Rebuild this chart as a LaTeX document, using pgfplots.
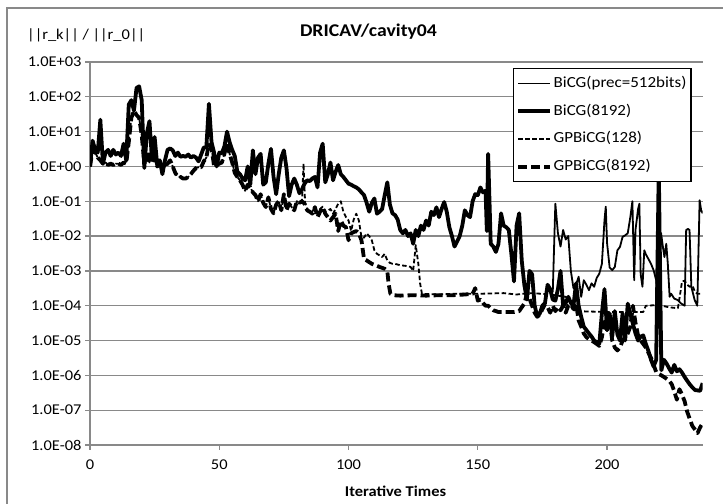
\documentclass[border=0pt]{standalone}
\usepackage{fontspec}
\setmainfont{Carlito}[FakeStretch=1.1]
\usepackage{pgfplots}
\pgfplotsset{compat=1.18}
\definecolor{gridgray}{RGB}{137,137,137}
\begin{document}
\begin{tikzpicture}[x=1bp,y=1bp]
\useasboundingbox (0,0) rectangle (723,504);
\draw[gridgray, line width=1.2bp] (7,-2) -- (7,496) -- (725,496);
\node at (368.5,472) {\bfseries\fontsize{18}{21}\selectfont DRICAV/cavity04};
\node[anchor=west, inner sep=0pt] at (27,469) {\fontsize{15}{18}\selectfont ||r\_k|| / ||r\_0||};
\node at (395.5,12.3) {\bfseries\fontsize{15}{18}\selectfont Iterative Times};
\begin{axis}[
  at={(90bp,59bp)}, anchor=south west,
  scale only axis, width=612.7bp, height=383bp,
  ymode=log, ymin=1e-8, ymax=1e3, xmin=0, xmax=237,
  axis x line*=bottom, axis y line*=left,
  axis line style={gridgray, line width=1.2bp, -},
  ytick={1e-8,1e-7,1e-6,1e-5,1e-4,1e-3,1e-2,1e-1,1,10,100,1000},
  yticklabels={1.0E-08,1.0E-07,1.0E-06,1.0E-05,1.0E-04,1.0E-03,1.0E-02,1.0E-01,1.0E+00,1.0E+01,1.0E+02,1.0E+03},
  yminorticks=false,
  xtick={0,50,100,150,200}, xticklabels={0,50,100,150,200},
  xticklabel style={yshift=-6bp},
  ymajorgrids, grid style={gridgray, line width=1.2bp},
  tick style={gridgray, line width=1.2bp}, tick align=outside, major tick length=5bp,
  ticklabel style={font=\fontsize{15}{18}\selectfont},
  legend cell align=left,
  legend image code/.code={\draw[#1] (0bp,0bp) -- (32bp,0bp);},
  legend style={at={(rel axis cs:0.690,0.984)}, anchor=north west, draw=black, line width=1.2bp,
    fill=white, inner xsep=3bp, inner ysep=1bp, font=\fontsize{15.5}{18}\selectfont,
    nodes={inner xsep=1.5bp, inner ysep=6.35bp, text height=11.5bp, text depth=3.5bp}},
  every axis plot/.append style={line join=round, black},
]
% BiCG(prec=512bits)
\addplot[line width=1.8bp] coordinates {
(0,1) (1,5.5) (2,3) (3,2.5) (4,22) (5,1.2) (6,2.5) (7,3) (8,2) (9,3) (10,2.2) (11,2.5) (12,2) (13,4.5) (14,1.5) (15,60) (16,80) (17,40) (18,180) (19,200) (20,80) (21,0.9) (22,9) (23,20) (24,1.5) (25,7) (26,1.1) (27,1.5) (28,0.6) (29,1.5) (30,3) (31,3.3) (32,2.9) (33,2) (34,2.5) (35,1.9) (36,2) (37,1.9) (38,2.2) (39,1.8) (40,2) (41,1.8) (42,1.4) (43,2.2) (44,3.5) (45,3.5) (46,63) (47,5) (48,2.5) (49,1) (50,2.5) (51,2.4) (52,3.8) (53,10) (54,5) (55,3) (56,2) (57,0.7) (58,0.6) (59,0.45) (60,0.4) (61,1) (62,0.3) (63,2.9) (64,0.6) (65,1.8) (66,2.3) (67,0.3) (68,0.35) (69,1.2) (70,3.2) (71,0.5) (72,0.16) (73,0.6) (74,1.8) (75,2.9) (76,0.9) (77,0.14) (78,0.3) (79,0.45) (80,0.3) (81,0.17) (82,0.22) (83,0.32) (84,0.4) (85,0.38) (86,0.45) (87,0.5) (88,0.25) (89,2.5) (90,4.5) (91,0.35) (92,0.6) (93,1.3) (94,0.4) (95,0.7) (96,1.1) (97,0.6) (98,0.5) (99,0.4) (100,0.32) (101,0.3) (102,0.27) (103,0.25) (104,0.22) (105,0.18) (106,0.15) (107,0.09) (108,0.05) (109,0.09) (110,0.12) (111,0.044) (112,0.05) (113,0.06) (114,0.15) (115,0.35) (116,0.08) (117,0.045) (118,0.04) (119,0.03) (120,0.015) (121,0.012) (122,0.015) (123,0.01) (124,0.012) (125,0.006) (126,0.015) (127,0.01) (128,0.02) (129,0.015) (130,0.028) (131,0.02) (132,0.05) (133,0.04) (134,0.067) (135,0.035) (136,0.06) (137,0.095) (138,0.05) (139,0.018) (140,0.01) (141,0.005) (142,0.007) (143,0.01) (144,0.02) (145,0.055) (146,0.04) (147,0.035) (148,0.1) (149,0.16) (150,0.15) (151,0.25) (152,0.18) (153,0.2) (153.5,0.014) (154,2.3) (155,0.006) (156,0.005) (157,0.0035) (158,0.006) (159,0.045) (160,0.02) (161,0.018) (162,0.015) (163,0.003) (164,0.0005) (165,0.02) (166,0.045) (167,0.002) (168,0.0004) (169,0.00015) (170,0.001) (171,0.0008) (172,0.0001) (173,0.00005) (174,0.00006) (175,0.0001) (176,0.00012) (177,0.0004) (178,0.0003)
(179,2.5e-4) (180,0.085) (181,0.012) (182,5e-3) (183,0.015) (184,8e-3) (185,0.01) (186,1e-3) (187,3.2e-4) (188,4e-4) (189,6.8e-4) (190,1.8e-4) (191,5.4e-4) (192,4e-4) (193,2.8e-4) (194,4.4e-4) (195,3.5e-4) (196,6.3e-4) (197,8.3e-4) (198,1.6e-3) (199,0.028) (199.5,0.07) (200,6.3e-3) (201,1.25e-3) (202,1.05e-3) (203,1.3e-3) (204,3.9e-3) (205,4.9e-3) (206,9.5e-3) (207,0.0105) (208,0.012) (209,0.035) (209.8,0.1) (210.5,5.4e-4) (211,0.015) (212,0.06) (212.5,0.085) (213,8e-4) (213.7,3.5e-4) (214.4,3.9e-3) (215,3e-3) (216,2.2e-3) (217,1.6e-3) (218,1.05e-3) (219,5.4e-4) (219.6,1.15e-4) (220.9,0.012) (221.6,4.9e-3) (222.2,2.5e-3) (222.9,6e-3) (223.5,1.6e-3) (224.2,1.8e-4) (224.8,2.2e-4) (226,1.6e-4) (227.4,1.45e-4) (228.7,1.15e-4) (230,1e-4) (230.6,0.015) (231.3,0.016) (231.9,0.015) (232.6,3.5e-4) (233.9,1.45e-4) (234.9,1e-4) (235.8,0.107) (236.4,0.055) (237,0.045)
};
\addlegendentry{BiCG(prec=512bits)}
% BiCG(8192)
\addplot[line width=3.8bp] coordinates {
(0,1) (1,5.5) (2,3) (3,2.5) (4,22) (5,1.2) (6,2.5) (7,3) (8,2) (9,3) (10,2.2) (11,2.5) (12,2) (13,4.5) (14,1.5) (15,60) (16,80) (17,40) (18,180) (19,200) (20,80) (21,0.9) (22,9) (23,20) (24,1.5) (25,7) (26,1.1) (27,1.5) (28,0.6) (29,1.5) (30,3) (31,3.3) (32,2.9) (33,2) (34,2.5) (35,1.9) (36,2) (37,1.9) (38,2.2) (39,1.8) (40,2) (41,1.8) (42,1.4) (43,2.2) (44,3.5) (45,3.5) (46,63) (47,5) (48,2.5) (49,1) (50,2.5) (51,2.4) (52,3.8) (53,10) (54,5) (55,3) (56,2) (57,0.7) (58,0.6) (59,0.45) (60,0.4) (61,1) (62,0.3) (63,2.9) (64,0.6) (65,1.8) (66,2.3) (67,0.3) (68,0.35) (69,1.2) (70,3.2) (71,0.5) (72,0.16) (73,0.6) (74,1.8) (75,2.9) (76,0.9) (77,0.14) (78,0.3) (79,0.45) (80,0.3) (81,0.17) (82,0.22) (83,0.32) (84,0.4) (85,0.38) (86,0.45) (87,0.5) (88,0.25) (89,2.5) (90,4.5) (91,0.35) (92,0.6) (93,1.3) (94,0.4) (95,0.7) (96,1.1) (97,0.6) (98,0.5) (99,0.4) (100,0.32) (101,0.3) (102,0.27) (103,0.25) (104,0.22) (105,0.18) (106,0.15) (107,0.09) (108,0.05) (109,0.09) (110,0.12) (111,0.044) (112,0.05) (113,0.06) (114,0.15) (115,0.35) (116,0.08) (117,0.045) (118,0.04) (119,0.03) (120,0.015) (121,0.012) (122,0.015) (123,0.01) (124,0.012) (125,0.006) (126,0.015) (127,0.01) (128,0.02) (129,0.015) (130,0.028) (131,0.02) (132,0.05) (133,0.04) (134,0.067) (135,0.035) (136,0.06) (137,0.095) (138,0.05) (139,0.018) (140,0.01) (141,0.005) (142,0.007) (143,0.01) (144,0.02) (145,0.055) (146,0.04) (147,0.035) (148,0.1) (149,0.16) (150,0.15) (151,0.25) (152,0.18) (153,0.2) (153.5,0.014) (154,2.3) (155,0.006) (156,0.005) (157,0.0035) (158,0.006) (159,0.045) (160,0.02) (161,0.018) (162,0.015) (163,0.003) (164,0.0005) (165,0.02) (166,0.045) (167,0.002) (168,0.0004) (169,0.00015) (170,0.001) (171,0.0008) (172,0.0001) (173,0.00005) (174,0.00006) (175,0.0001) (176,0.00012) (177,0.0004) (178,0.0003)
(179,1.5e-4) (180,1.4e-4) (181,3e-4) (182,1e-3) (183,1e-4) (184,1.2e-4) (185,1.8e-4) (186,1.2e-4) (187,1e-4) (188,4.4e-4) (189,1e-4) (190,4.8e-5) (191,2.5e-5) (192,2e-5) (193,1.6e-5) (194,1.3e-5) (195,1e-5) (196,9e-6) (197,8e-6) (198,6e-5) (199,3e-4) (200,2e-5) (201,6e-5) (202,1.3e-5) (203,7e-5) (204,1.5e-5) (205,1e-5) (206,6e-5) (207,1e-5) (208,1.15e-4) (209,6e-5) (210,3e-5) (211,1.6e-5) (212,1e-5) (213,1.3e-5) (214,1.4e-5) (215,8e-6) (216,5e-6) (217,2.8e-6) (218,1.8e-6) (219,2.8e-6) (220,1.0) (221,1.4e-6) (222,2.8e-6) (223,2.2e-6) (224,1.6e-6) (225,1.2e-6) (226,2e-6) (227,1.3e-6) (228,1.5e-6) (229,1.2e-6) (230,9e-7) (231,7e-7) (232,5.5e-7) (233,4.5e-7) (234,3.8e-7) (235,3.7e-7) (236,3.6e-7) (237,6e-7)
};
\addlegendentry{BiCG(8192)}
% GPBiCG(128)
\addplot[line width=1.8bp, dash pattern=on 4.5bp off 2.5bp] coordinates {
(0,1) (1,3) (2,2.5) (3,1.8) (4,1.5) (5,1.2) (6,1.3) (7,1.1) (8,1.2) (9,1.1) (10,1.2) (11,1.2) (12,1.1) (13,1.3) (14,1.2) (15,5) (16,25) (17,40) (18,30) (19,25) (20,8) (21,1.2) (22,2.5) (23,1.3) (24,3) (25,1.5) (26,1) (27,1.2) (28,1.1) (29,1) (30,1.2) (31,1.5) (32,1) (33,0.65) (34,0.5) (35,0.5) (36,0.45) (37,0.45) (38,0.5) (39,0.6) (40,0.75) (41,0.9) (42,0.95) (43,0.95) (44,1.4) (45,1.8) (46,4.5) (47,3.5) (48,1) (49,1.1) (50,1.2) (51,1.3) (52,2.3) (53,4.5) (54,2.3) (55,1.3) (56,0.65) (57,0.5) (58,0.4) (59,0.3) (60,0.2) (61,0.3) (62,0.25) (63,0.18) (64,0.15) (65,0.1) (66,0.16) (67,0.09) (68,0.068) (69,0.13) (70,0.06) (71,0.045) (72,0.08) (73,0.1) (74,0.055) (75,0.16) (76,0.055) (77,0.085) (78,0.068) (79,0.055) (80,0.1) (81,0.09) (82,0.1)
(82.6,1.2) (83.2,0.09) (84,0.06) (85,0.05) (86,0.05) (87,0.07) (88,0.04) (89,0.06) (90,0.07) (91,0.05) (92,0.054) (93,0.06) (94,0.044) (95,0.06) (96,0.085) (97,0.1) (98,0.05) (99,0.035) (100,0.028) (101,0.014) (102,0.03) (103,0.044) (104,0.028) (105,0.0093) (106,0.009) (107,0.012) (108,0.01) (109,0.0076) (110,0.0039) (111,0.0031) (112,0.0028) (113,0.0025) (114,0.0031) (115,0.002) (116,0.0017) (117,0.0016) (118,0.0016) (120,0.00145) (122,0.0014) (124,0.0013) (125,0.001) (126,0.0055) (127,0.0016) (127.7,0.00043) (128.4,0.00022) (135,0.00021) (140,0.00022) (150,0.00022) (160,0.00023) (165,0.00021) (170,0.00023) (175,0.00022) (180,0.0002) (184,0.00018) (186,0.00012) (187.5,0.00007) (200,0.000066) (214,0.000066) (215,0.0001) (220,0.000105) (224,0.00009) (227.4,0.000085) (228.2,0.0002) (229,0.0005) (230,0.00052) (231,0.0004) (232,0.00035) (233,0.00038) (234,0.00025) (235,0.00022) (236,0.00022)
};
\addlegendentry{GPBiCG(128)}
% GPBiCG(8192)
\addplot[line width=3.8bp, dash pattern=on 9bp off 4bp] coordinates {
(0,1) (1,3) (2,2.5) (3,1.8) (4,1.5) (5,1.2) (6,1.3) (7,1.1) (8,1.2) (9,1.1) (10,1.2) (11,1.2) (12,1.1) (13,1.3) (14,1.2) (15,5) (16,25) (17,40) (18,30) (19,25) (20,8) (21,1.2) (22,2.5) (23,1.3) (24,3) (25,1.5) (26,1) (27,1.2) (28,1.1) (29,1) (30,1.2) (31,1.5) (32,1) (33,0.65) (34,0.5) (35,0.5) (36,0.45) (37,0.45) (38,0.5) (39,0.6) (40,0.75) (41,0.9) (42,0.95) (43,0.95) (44,1.4) (45,1.8) (46,4.5) (47,3.5) (48,1) (49,1.1) (50,1.2) (51,1.3) (52,2.3) (53,4.5) (54,2.3) (55,1.3) (56,0.65) (57,0.5) (58,0.4) (59,0.3) (60,0.2) (61,0.3) (62,0.25) (63,0.18) (64,0.15) (65,0.1) (66,0.16) (67,0.09) (68,0.068) (69,0.13) (70,0.06) (71,0.045) (72,0.08) (73,0.1) (74,0.055) (75,0.16) (76,0.055) (77,0.085) (78,0.068) (79,0.055) (80,0.1) (81,0.09) (82,0.1)
(83,0.085) (84,0.055) (85,0.05) (86,0.044) (87,0.068) (88,0.035) (89,0.05) (90,0.068) (91,0.044) (92,0.035) (93,0.028) (94,0.035) (95,0.044) (96,0.014) (97,0.028) (98,0.02) (99,0.018) (100,0.0076) (101,0.012) (102,0.013) (103,0.014) (104,0.012) (105,0.0076) (106,0.0022) (107,0.002) (109,0.0016) (111,0.0014) (112,0.0013) (114,0.00115) (115,0.001) (115.5,0.00043) (116.2,0.00022) (117.4,0.0002) (120,0.000195) (125,0.0002) (130,0.000195) (135,0.0002) (140,0.0002) (145,0.00021) (148,0.00022) (149,0.00032) (150,0.00014) (151,0.00015) (152,0.00012) (153,0.0001) (154,0.0001) (155,0.000085) (156,0.000074) (157,0.00007) (158,0.000066) (164,0.000066) (166,0.00007) (167,0.00009) (168,0.000115) (169,0.00022) (170,0.00016)
(171,1e-4) (172,6.3e-5) (173,4.8e-5) (174,5.6e-5) (175,8e-5) (176,1.1e-4) (177,9e-5) (178,6.3e-5) (179,1e-4) (180,7e-5) (181,9e-5) (182,7.4e-5) (183,1e-4) (184,6.3e-5) (185,1e-4) (186,1.1e-4) (187,8e-5) (188,1.15e-4) (189,3.8e-5) (190,2.5e-5) (191,1.6e-5) (192,1.25e-5) (193,1.1e-5) (194,1e-5) (195,9e-6) (196,8e-6) (197,7e-6) (198,1.25e-5) (199,3.5e-5) (200,2e-5) (201,3.8e-5) (202,1e-5) (203,6.3e-6) (204,5.2e-6) (205,6.3e-6) (206,1e-5) (207,1.25e-5) (208,1.6e-5) (209,2.5e-5) (210,1e-4) (211,3.2e-5) (212,1.4e-5) (213,1e-5) (214,8e-6) (215,6.3e-6) (216,4.5e-6) (217,3.2e-6) (218,2e-6) (219,1.25e-6) (220,1.1e-6) (221,1e-6) (222,9e-7) (223,8e-7) (224,7e-7) (225,5.6e-7) (226,3.5e-7) (227,2e-7) (228,4e-7) (229,2.8e-7) (230,1.8e-7) (231,9e-8) (232,5.6e-8) (233,3.5e-8) (234,2.8e-8) (235,2.2e-8) (236,3.2e-8) (237,4.2e-8)
};
\addlegendentry{GPBiCG(8192)}
\end{axis}
\end{tikzpicture}
\end{document}
